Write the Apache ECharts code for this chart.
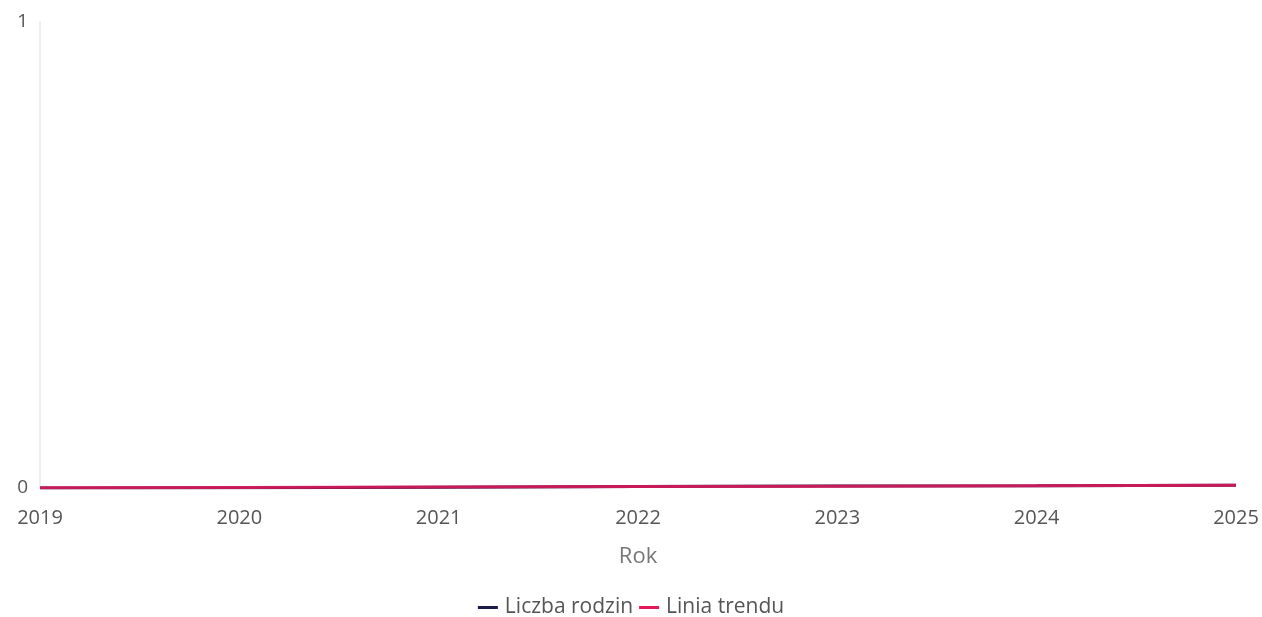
<!DOCTYPE html>
<html><head><meta charset="utf-8">
<script src="https://cdn.jsdelivr.net/npm/echarts@6/dist/echarts.min.js"></script>
<style>html,body{margin:0;padding:0;background:#fff}#c{width:1262px;height:617px}</style>
</head><body><div id="c"></div>
<script>
const years = ['2019','2020','2021','2022','2023','2024','2025'];
const liczbaRodzin = [0, 0.0008, 0.0018, 0.003, 0.0042, 0.0048, 0.0058];
const liniaTrendu = [0.0003, 0.0012, 0.0021, 0.003, 0.0039, 0.0048, 0.0057];
const yTicks = [0, 1];

const chart = echarts.init(document.getElementById('c'), null, {renderer:'canvas'});
chart.setOption({
  animation:false,
  textStyle:{fontFamily:'"Open Sans", sans-serif'},
  grid:{left:40,right:26,top:22,bottom:129,containLabel:false},
  legend:{
    top:592, left:'center',
    itemWidth:20, itemHeight:3, itemGap:6,
    icon:'rect',
    textStyle:{color:'#555',fontSize:21,fontFamily:'"Open Sans", sans-serif',padding:[0,0,0,2]},
    data:['Liczba rodzin','Linia trendu']
  },
  xAxis:{
    type:'category', data:years, boundaryGap:false,
    name:'Rok', nameLocation:'middle', nameGap:58,
    nameTextStyle:{color:'#777',fontSize:22},
    axisLine:{show:false}, axisTick:{show:false},
    axisLabel:{color:'#555',fontSize:20,margin:20,
      alignMinLabel:'center', alignMaxLabel:'center'},
    splitLine:{show:false}
  },
  yAxis:{
    type:'value', min:yTicks[0], max:yTicks[1], interval:1,
    axisLine:{show:true,lineStyle:{color:'#eee',width:2}},
    axisTick:{show:false},
    axisLabel:{color:'#555',fontSize:19,margin:12},
    splitLine:{show:false}
  },
  series:[
    {name:'Liczba rodzin',type:'line',data:liczbaRodzin,showSymbol:false,
     lineStyle:{color:'#1b1b4b',width:3},itemStyle:{color:'#1b1b4b'}},
    {name:'Linia trendu',type:'line',data:liniaTrendu,showSymbol:false,
     lineStyle:{color:'#e6195a',width:3,opacity:0.85},itemStyle:{color:'#e6195a'}}
  ]
});
</script></body></html>
